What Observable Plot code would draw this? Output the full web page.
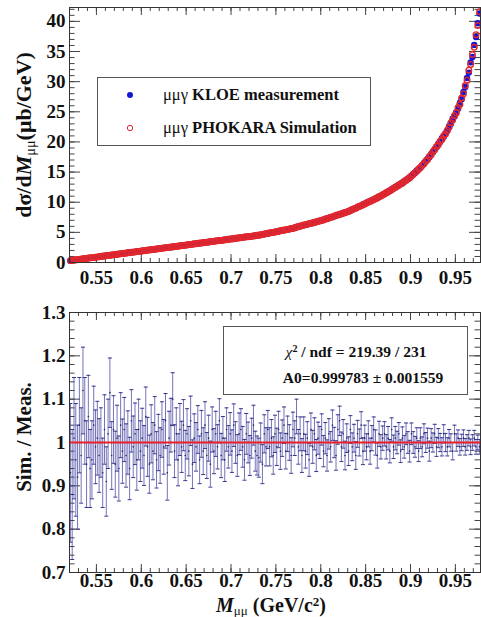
<!DOCTYPE html>
<html><head><meta charset="utf-8">
<script src="https://cdn.jsdelivr.net/npm/d3@7"></script>
<script src="https://cdn.jsdelivr.net/npm/@observablehq/plot@0.6"></script>
<style>
html,body{margin:0;padding:0;background:#fff;}
#wrap{position:relative;width:481px;height:617px;overflow:hidden;font-family:"Liberation Serif","Times New Roman",serif;color:#111;}
#wrap svg.plot{position:absolute;left:0;display:block;}
.ov{position:absolute;white-space:nowrap;font-weight:bold;line-height:1;}
.c{transform:translate(-50%,-50%);}
.rot{transform:translate(-50%,-50%) rotate(-90deg);}
.box{position:absolute;border:1px solid #555;background:#fff;box-sizing:border-box;}
.n{font-weight:normal;}
.sb{font-size:65%;vertical-align:-0.25em;line-height:0;}
.sp{font-size:65%;vertical-align:0.5em;line-height:0;}
</style></head><body><div id="wrap"></div>
<script>
// ---- data (bin centres start at 0.521, width 0.002) ----
const binStart = 0.521, binWidth = 0.002;
const meas = [
0.31,0.38,0.40,0.45,0.47, 0.53,0.55,0.62,0.63,0.69, 0.71,0.76,0.81,0.83,0.89, 0.93,0.95,1.01,1.04,1.07,
1.13,1.17,1.19,1.25,1.27, 1.31,1.37,1.41,1.43,1.49, 1.54,1.55,1.61,1.65,1.67, 1.73,1.77,1.79,1.86,1.89,
1.91,1.97,2.02,2.03,2.09, 2.14,2.15,2.21,2.26,2.27, 2.31,2.37,2.42,2.43,2.50, 2.55,2.55,2.61,2.66,2.69,
2.71,2.78,2.79,2.85,2.89, 2.94,2.95,3.02,3.06,3.07, 3.11,3.18,3.20,3.23,3.30, 3.35,3.34,3.41,3.47,3.47,
3.51,3.58,3.62,3.63,3.70, 3.74,3.75,3.81,3.87,3.88, 3.93,3.98,4.00,4.05,4.10, 4.11,4.17,4.23,4.24,4.29,
4.34,4.35,4.41,4.47,4.49, 4.55,4.57,4.66,4.70,4.79, 4.81,4.90,4.93,5.01,5.08, 5.15,5.18,5.27,5.30,5.38,
5.41,5.50,5.53,5.62,5.68, 5.80,5.85,5.97,6.01,6.12, 6.17,6.28,6.33,6.43,6.49, 6.60,6.65,6.78,6.83,6.92,
6.97,7.10,7.16,7.31,7.37, 7.50,7.56,7.70,7.77,7.90, 7.96,8.10,8.17,8.30,8.40, 8.52,8.58,8.80,8.87,9.06,
9.16,9.35,9.43,9.62,9.76, 9.92,9.99,10.21,10.27,10.47, 10.55,10.80,10.86,11.10,11.20, 11.42,11.52,11.80,11.88,12.14,
12.27,12.55,12.62,12.90,13.00, 13.26,13.38,13.70,13.82,14.15, 14.30,14.70,14.85,15.25,15.42, 15.82,16.05,16.52,16.74,17.20,
17.45,18.02,18.28,18.85,19.12, 19.70,19.98,20.62,20.88,21.45, 21.80,22.62,23.00,23.85,24.20, 24.95,25.50,26.45,27.10,28.30,
29.10,30.60,31.50,33.20,34.10, 36.10,37.40,39.70,41.30];
const sim = [
0.33,0.35,0.41,0.43,0.49, 0.51,0.57,0.59,0.65,0.67, 0.73,0.77,0.79,0.85,0.87, 0.91,0.97,0.99,1.06,1.09,
1.11,1.16,1.21,1.23,1.29, 1.33,1.35,1.40,1.47,1.48, 1.51,1.57,1.60,1.63,1.69, 1.71,1.76,1.81,1.84,1.87,
1.93,1.95,2.01,2.06,2.07, 2.11,2.17,2.19,2.24,2.29, 2.33,2.35,2.41,2.46,2.47, 2.51,2.57,2.59,2.65,2.67,
2.73,2.75,2.82,2.84,2.88, 2.91,2.97,3.00,3.04,3.09, 3.13,3.15,3.22,3.25,3.27, 3.31,3.36,3.39,3.45,3.49,
3.53,3.55,3.61,3.65,3.67, 3.71,3.77,3.79,3.85,3.90, 3.91,3.95,4.02,4.07,4.07, 4.14,4.15,4.21,4.26,4.27,
4.31,4.37,4.39,4.45,4.50, 4.52,4.60,4.63,4.73,4.76, 4.85,4.88,4.96,4.99,5.06, 5.12,5.20,5.25,5.33,5.36,
5.45,5.48,5.57,5.64,5.66, 5.77,5.88,5.92,6.04,6.08, 6.20,6.25,6.36,6.41,6.52, 6.56,6.69,6.72,6.86,6.88,
7.00,7.06,7.20,7.27,7.40, 7.46,7.60,7.66,7.82,7.86, 8.00,8.06,8.22,8.26,8.36, 8.46,8.65,8.73,8.93,9.01,
9.20,9.30,9.47,9.58,9.72, 9.85,10.05,10.13,10.33,10.41, 10.62,10.70,10.93,11.02,11.25, 11.35,11.60,11.70,11.95,12.06,
12.33,12.44,12.70,12.80,13.05, 13.15,13.46,13.60,13.90,14.02, 14.40,14.58,14.95,15.12,15.50, 15.72,16.15,16.40,16.85,17.08,
17.58,17.88,18.42,18.70,19.25, 19.55,20.12,20.40,21.02,21.30, 21.95,22.42,23.18,23.62,24.40, 24.82,25.70,26.20,27.30,28.00,
29.35,30.25,31.90,32.85,34.50, 35.70,37.80,39.30,41.60];
const ratio = [
0.93,0.88,1.01,0.96,0.92, 1.04,0.97,1.12,1.05,0.95, 1.06,0.94,0.96,1.04,0.99, 1.01,0.97,1.00,0.93,1.03,
0.91,1.02,1.115,0.97,1.03, 0.95,1.01,0.94,1.04,0.98, 1.03,0.97,1.00,0.94,1.05, 0.99,1.02,0.96,1.03,0.98,
1.01,0.97,1.06,0.99,0.95, 1.02,0.98,1.04,0.96,1.00, 0.97,1.03,0.99,1.05,0.93, 1.01,1.04,1.10,0.98,1.02,
0.96,1.03,0.99,1.04,0.97, 1.02,0.98,1.05,0.95,1.01, 0.99,1.03,0.96,1.02,0.98, 1.04,0.97,1.01,0.95,1.03,
0.98,1.02,0.99,1.05,0.97, 1.01,0.96,1.03,0.99,1.02, 0.98,1.04,1.00,0.97,1.02, 1.03,0.99,0.96,1.02,1.00,
0.97,1.01,1.04,0.98,0.97, 0.965,1.00,0.95,1.02,0.99, 1.03,0.99,1.01,0.97,1.02, 0.99,1.03,0.98,1.01,1.04,
0.98,1.02,1.00,0.97,1.03, 1.01,1.06,0.99,1.02,0.97, 1.02,0.98,1.01,0.96,1.03, 0.99,1.02,0.97,1.01,1.00,
1.03,0.98,1.01,0.97,1.02, 0.99,1.04,1.00,0.97,1.03, 1.05,0.99,1.02,0.97,1.01, 0.98,1.03,0.99,1.01,0.97,
1.02,1.00,1.04,0.98,1.01, 0.99,1.02,0.98,1.01,1.03, 1.00,0.97,1.02,0.99,1.01, 1.02,0.99,1.01,0.98,1.03,
0.99,1.01,1.00,1.02,0.98, 1.01,0.99,1.02,1.00,0.98, 1.02,1.00,0.99,1.01,0.98, 1.01,0.99,1.02,1.00,1.01,
0.98,1.01,1.00,1.02,0.99, 1.01,1.00,0.99,1.02,1.00, 0.99,1.01,1.00,0.98,1.02, 1.00,1.01,0.99,1.00,1.01,
0.99,1.00,1.01,0.99,1.00, 1.01,0.99,1.00,0.99];
const ratioErr = [
0.16,0.15,0.14,0.13,0.12, 0.11,0.11,0.10,0.10,0.10, 0.095,0.09,0.09,0.09,0.085, 0.085,0.085,0.08,0.08,0.08,
0.08,0.08,0.08,0.078,0.078, 0.076,0.076,0.075,0.075,0.074, 0.074,0.073,0.073,0.072,0.072, 0.071,0.071,0.07,0.07,0.07,
0.069,0.069,0.068,0.068,0.067, 0.067,0.066,0.066,0.065,0.065, 0.064,0.064,0.063,0.063,0.063, 0.062,0.062,0.061,0.061,0.06,
0.06,0.06,0.059,0.059,0.058, 0.058,0.057,0.057,0.056,0.056, 0.056,0.055,0.055,0.054,0.054, 0.054,0.053,0.053,0.053,0.052,
0.052,0.052,0.051,0.051,0.051, 0.05,0.05,0.05,0.049,0.049, 0.049,0.049,0.048,0.048,0.048, 0.048,0.047,0.047,0.047,0.047,
0.046,0.046,0.046,0.046,0.045, 0.045,0.045,0.045,0.044,0.044, 0.044,0.044,0.043,0.043,0.043, 0.043,0.042,0.042,0.042,0.042,
0.041,0.041,0.041,0.041,0.040, 0.040,0.040,0.040,0.039,0.039, 0.039,0.039,0.038,0.038,0.038, 0.038,0.037,0.037,0.037,0.037,
0.036,0.036,0.036,0.036,0.035, 0.035,0.035,0.035,0.034,0.034, 0.034,0.034,0.033,0.033,0.033, 0.033,0.032,0.032,0.032,0.032,
0.031,0.031,0.031,0.031,0.030, 0.030,0.030,0.030,0.029,0.029, 0.029,0.029,0.029,0.028,0.028, 0.028,0.028,0.027,0.027,0.027,
0.027,0.027,0.026,0.026,0.026, 0.026,0.026,0.025,0.025,0.025, 0.025,0.025,0.024,0.024,0.024, 0.024,0.023,0.023,0.023,0.023,
0.023,0.022,0.022,0.022,0.022, 0.022,0.021,0.021,0.021,0.021, 0.021,0.020,0.020,0.020,0.020, 0.020,0.019,0.019,0.019,0.019,
0.019,0.018,0.018,0.018,0.018, 0.018,0.017,0.017,0.017];
const fitA0 = 0.999783, fitA0Err = 0.001559, chi2 = 219.39, ndf = 231;

// ---- axis ticks ----
const xDomain = [0.52, 0.978];
const xMajor = [0.55, 0.6, 0.65, 0.7, 0.75, 0.8, 0.85, 0.9, 0.95];
const yTopDomain = [0, 42.3];
const yTopMajor = [0, 5, 10, 15, 20, 25, 30, 35, 40];
const yBotDomain = [0.7, 1.3];
const yBotMajor = [0.7, 0.8, 0.9, 1.0, 1.1, 1.2, 1.3];

const xMinor = d3.range(53, 98).map(v => v / 100);
const yTopMinor = d3.range(0, 43);
const yBotMinor = d3.range(35, 66).map(v => v / 50);

const rows = meas.map((v, i) => ({
  m: binStart + i * binWidth, meas: v, sim: sim[i], ratio: ratio[i], err: ratioErr[i]
}));

const fmt = d => String(+d.toFixed(2));
const font = '"Liberation Serif","Times New Roman",serif';
const W = 481, ML = 69, MR = 1;
const PW = W - ML - MR;

function frameTicks(xMaj, xMin, yMaj, yMin, ph) {
  const s = {stroke: "#444", strokeWidth: 1};
  return [
    Plot.ruleX(xMaj, {...s, insetTop: ph - 8}), Plot.ruleX(xMaj, {...s, insetBottom: ph - 8}),
    Plot.ruleX(xMin, {...s, insetTop: ph - 4}), Plot.ruleX(xMin, {...s, insetBottom: ph - 4}),
    Plot.ruleY(yMaj, {...s, insetRight: PW - 11}), Plot.ruleY(yMaj, {...s, insetLeft: PW - 11}),
    Plot.ruleY(yMin, {...s, insetRight: PW - 5.5}), Plot.ruleY(yMin, {...s, insetLeft: PW - 5.5})
  ];
}
const style = {fontFamily: font, fontSize: "19px", fontWeight: "bold", color: "#111", background: "transparent", overflow: "visible"};

// top panel
const H1 = 290, MT1 = 7, MB1 = 28;
const topPlot = Plot.plot({
  width: W, height: H1, marginLeft: ML, marginRight: MR, marginTop: MT1, marginBottom: MB1,
  x: {domain: xDomain}, y: {domain: yTopDomain},
  style,
  marks: [
    ...frameTicks(xMajor, xMinor, yTopMajor, yTopMinor, H1 - MT1 - MB1),
    Plot.dot(rows, {x: "m", y: "meas", r: 3.2, fill: "#1414d4"}),
    Plot.dot(rows, {x: "m", y: "sim", r: 2.8, stroke: "#e3282c", strokeWidth: 1.4, fill: "none"}),
    Plot.frame({stroke: "#333", strokeWidth: 1}),
    Plot.axisX(xMajor, {tickSize: 0, tickPadding: 8, tickFormat: fmt, label: null}),
    Plot.axisY(yTopMajor, {tickSize: 0, tickPadding: 4, tickFormat: fmt, label: null})
  ]
});

// bottom panel
const H2 = 327, MT2 = 22, MB2 = 45;
const cap = {draw(ctx, size) { const r = Math.sqrt(size / Math.PI); ctx.moveTo(-r, 0); ctx.lineTo(r, 0); }};
const barColor = "#4646a2", capColor = "#35358f";
const botPlot = Plot.plot({
  width: W, height: H2, marginLeft: ML, marginRight: MR, marginTop: MT2, marginBottom: MB2,
  x: {domain: xDomain}, y: {domain: yBotDomain},
  style,
  marks: [
    ...frameTicks(xMajor, xMinor, yBotMajor, yBotMinor, H2 - MT2 - MB2),
    Plot.ruleX(rows, {x: "m", y1: d => d.ratio - d.err, y2: d => d.ratio + d.err, stroke: barColor, strokeWidth: 1, strokeOpacity: 0.75, clip: true}),
    Plot.dot(rows, {x: "m", y: d => d.ratio - d.err, symbol: cap, r: 2, stroke: capColor, strokeWidth: 1, clip: true}),
    Plot.dot(rows, {x: "m", y: d => d.ratio + d.err, symbol: cap, r: 2, stroke: capColor, strokeWidth: 1, clip: true}),
    Plot.dot(rows, {x: "m", y: "ratio", r: 0.8, fill: "#22226a"}),
    Plot.ruleY([fitA0], {stroke: "#e8202a", strokeWidth: 2}),
    Plot.frame({stroke: "#333", strokeWidth: 1}),
    Plot.axisX(xMajor, {tickSize: 0, tickPadding: 1, tickFormat: fmt, label: null}),
    Plot.axisY(yBotMajor, {tickSize: 0, tickPadding: 4, tickFormat: fmt, label: null})
  ]
});

const wrap = document.getElementById("wrap");
topPlot.classList.add("plot"); topPlot.style.top = "0px";
botPlot.classList.add("plot"); botPlot.style.top = H1 + "px";
wrap.appendChild(topPlot);
wrap.appendChild(botPlot);

function ov(html, x, y, cls, size) {
  const d = document.createElement("div");
  d.className = "ov " + cls;
  d.style.left = x + "px"; d.style.top = y + "px"; d.style.fontSize = size + "px";
  d.innerHTML = html;
  wrap.appendChild(d);
  return d;
}
function box(x, y, w, h) {
  const b = document.createElement("div");
  b.className = "box";
  Object.assign(b.style, {left: x + "px", top: y + "px", width: w + "px", height: h + "px"});
  wrap.appendChild(b);
}

// axis titles
ov('dσ/d<i>M</i><span class="sb n">μμ</span>(μb/GeV)', 24, 135, "rot", 22);
ov('Sim. / Meas.', 24, 437, "rot", 21);
ov('<i>M</i><span class="sb n">μμ</span> (GeV/c<span class="sp">2</span>)', 271, 605, "c", 20);

// legend
box(97, 77, 274, 69);
const lg = document.createElementNS("http://www.w3.org/2000/svg", "svg");
lg.setAttribute("width", 481); lg.setAttribute("height", 200);
lg.style.position = "absolute"; lg.style.left = "0px"; lg.style.top = "0px";
lg.innerHTML = '<circle cx="130" cy="95" r="3" fill="#1414d4"/><circle cx="130" cy="128" r="2.7" fill="none" stroke="#e3282c" stroke-width="1"/>';
wrap.appendChild(lg);
ov('<span class="n">μμγ</span> KLOE measurement', 163, 95, "", 16.5).style.transform = "translateY(-50%)";
ov('<span class="n">μμγ</span> PHOKARA Simulation', 163, 128, "", 16.5).style.transform = "translateY(-50%)";

// fit box
box(223, 326, 245, 69);
ov('<span class="n"><i>χ</i></span><span class="sp">2</span> / ndf = ' + chi2.toFixed(2) + ' / ' + ndf, 356, 352, "c", 15.5);
ov('A0=' + fitA0.toFixed(6) + ' ± ' + fitA0Err.toFixed(6), 363, 378, "c", 15.5);
</script></body></html>
